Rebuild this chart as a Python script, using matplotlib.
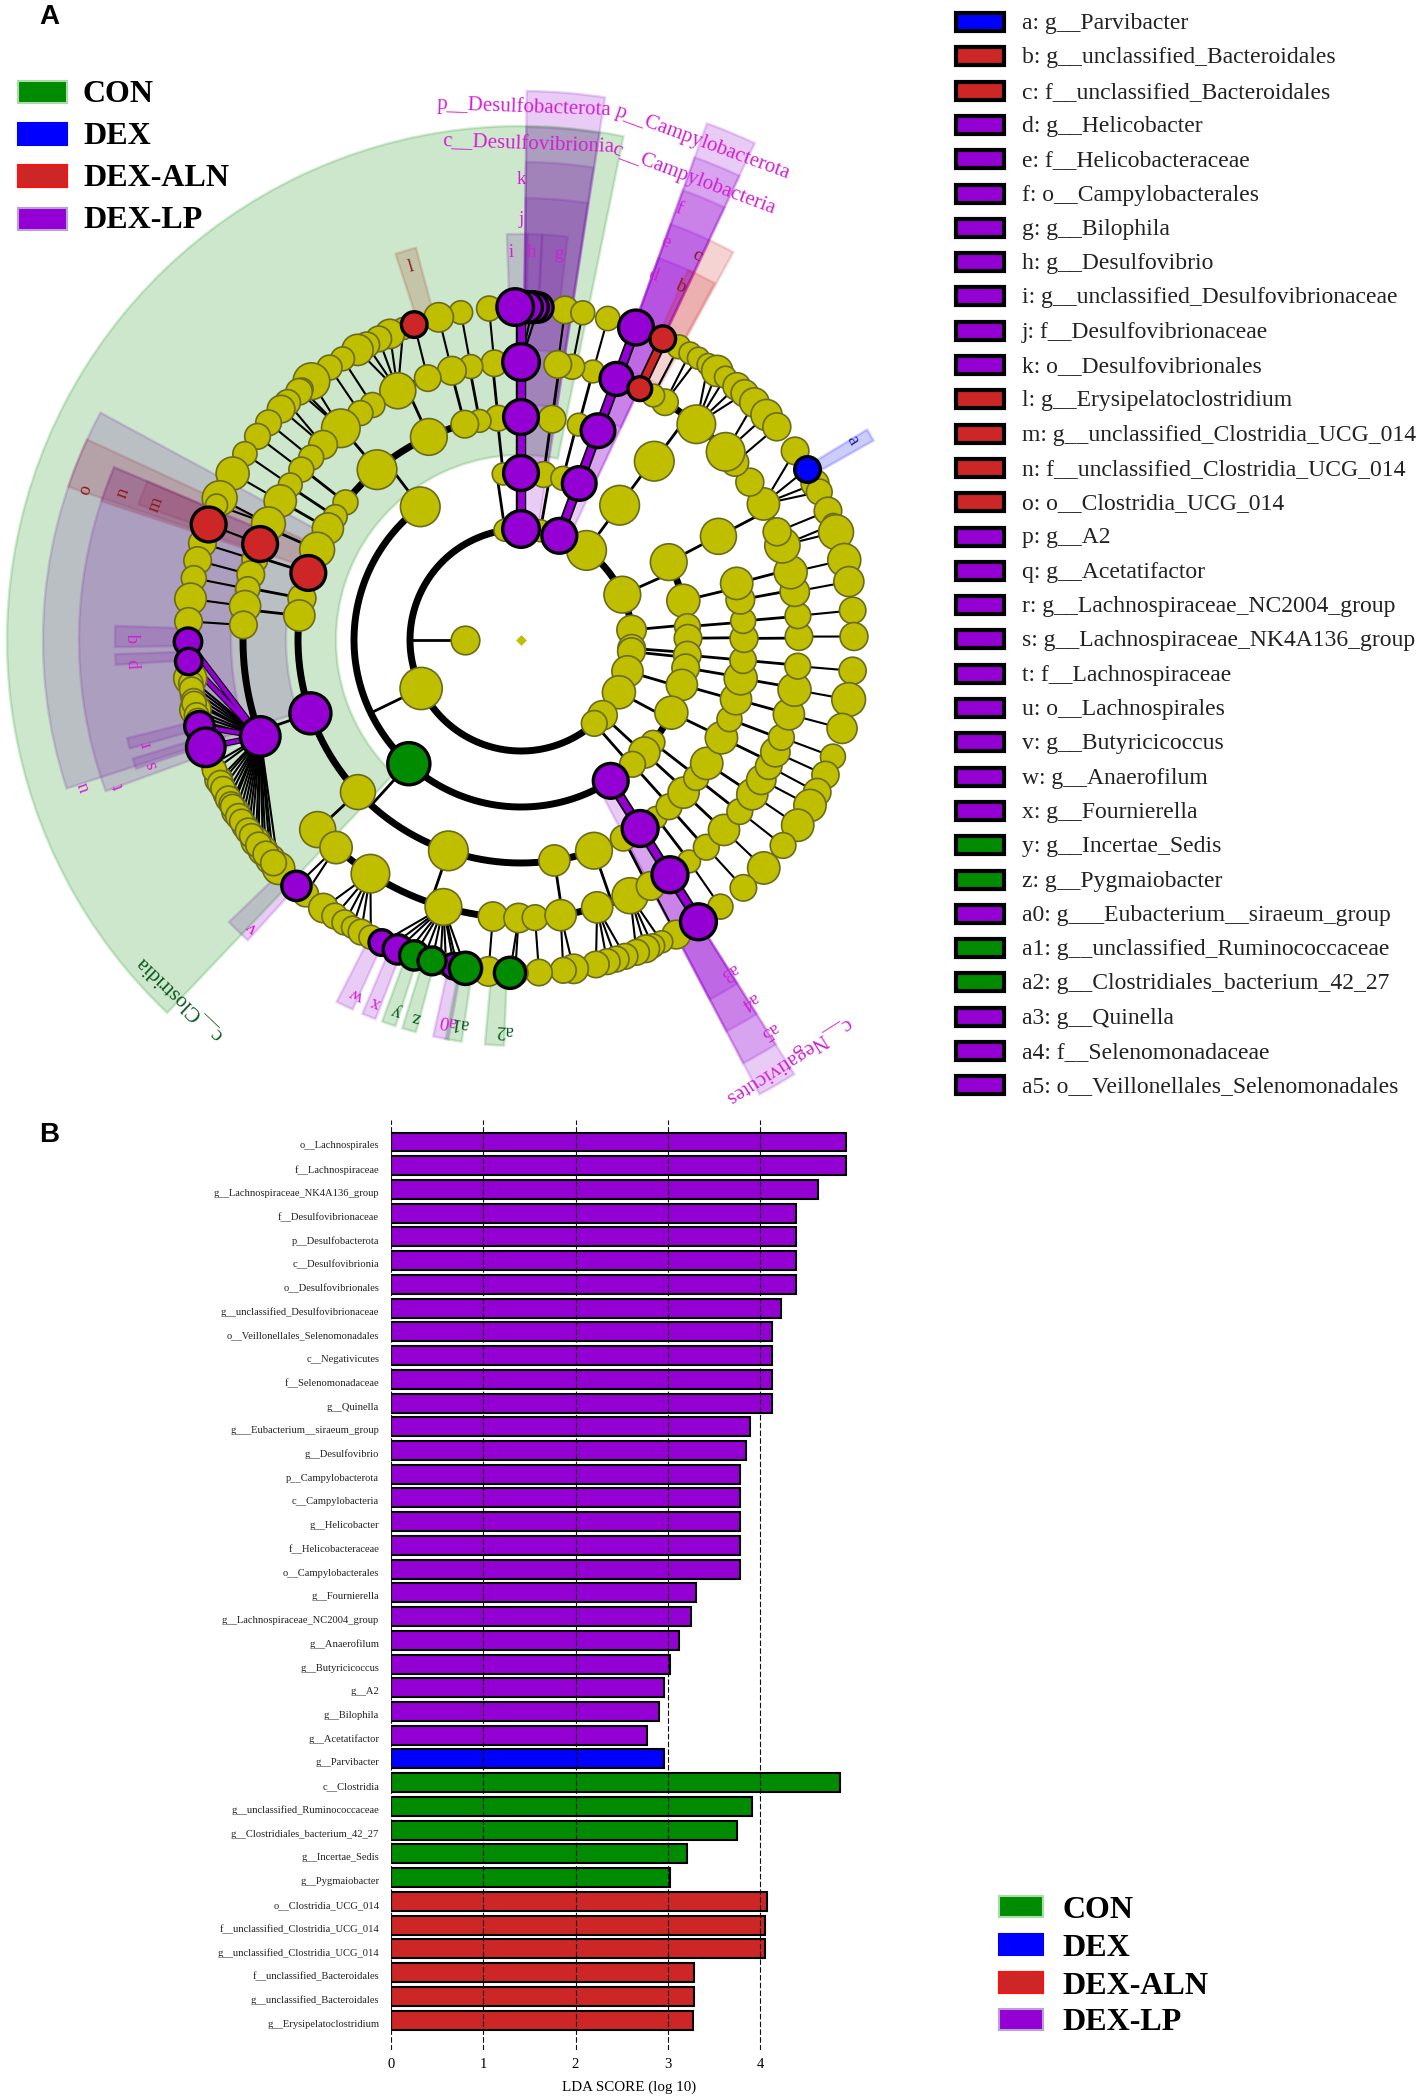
import matplotlib
matplotlib.use('Agg')
import matplotlib.pyplot as plt
from matplotlib.patches import Rectangle
from matplotlib.transforms import ScaledTranslation
import numpy as np

W, H = 1417, 2099
SERIF = 'Liberation Serif'

# group colours
group_color = {'CON': '#008B00', 'DEX': '#0000FF', 'DEX-ALN': '#CD2626', 'DEX-LP': '#9400D3'}
label_color = {'CON': '#0B5A1E', 'DEX': '#2222AA', 'DEX-ALN': '#8B1A1A', 'DEX-LP': '#D41FD4'}
YELLOW = '#BFBF00'

##### cladogram data: angle in degrees, size = node diameter read in zoomed pixels
ring_r = [0, 56, 111, 167, 223, 278, 333]

ring1_angle = [180]
ring1_size = [78]
ring2_angle = [98.3, 80, 53.8, 24.1, 5.2, -4.3, -6, -16.4, -28.1, -42.7, -48.7, 205.9]
ring2_size = [60, 60, 108, 100, 80, 75, 75, 85, 90, 80, 70, 115]
ring3_angle = [96.1, 127.1, 82.2, 75.5, 53.8, 27.8, 13.6, 4.6, 0.6, -5.2, -9.6, -15.6, -25.8, -37.8, -42.4, -48.1]
ring3_size = [60, 108, 70, 65, 108, 100, 90, 70, 75, 75, 75, 85, 90, 65, 85, 70]
ring4_angle = [95.9, 100.7, 104.6, 114.4, 130.2, 141.9, 146.4, 150, 156.1, 169.2, 173.7, 223, 251,
               -81.4, -70.9, -62.7, -52.7, -48.4, -43.2, -38.2, -33.6, -26, -20.8, -15.4, -9.9, -5.2,
               0.4, 4.9, 10.4, 14.7, 27.7, 53.3, 75, 82]
ring4_size = [70, 62, 75, 100, 108, 68, 65, 85, 95, 76, 85, 95, 108,
              85, 100, 70, 60, 70, 85, 68, 88, 88, 68, 85, 90, 72,
              76, 68, 78, 88, 98, 108, 62, 75]
ring5_angle = [95.5, 100.4, 104.4, 109.6, 116.3, 122.3, 125.3, 130.4, 135.4, 139, 142.2, 146.1, 150, 155.3,
               163.2, 166.4, 169.4, 173, 176.9, 223, 228.3, 237.2, 253.8, 264.2, 269.5,
               -87.1, -81.8, -74.1, -66.9, -62.2, -52.8, -48.2, -43.1, -38.1, -33.7, -30.2, -27, -23.8,
               -20.5, -15.5, -10.3, -5.4, 0.7, 5, 10, 14.1, 19.9, 22.9, 29.3, 34.6, 39.7, 42.6, 50.9,
               58.8, 61.6, 75, 79.4, 82.4]
ring5_size = [72, 65, 78, 72, 98, 68, 68, 105, 78, 68, 68, 65, 88, 92,
              70, 75, 66, 85, 75, 98, 88, 105, 100, 80, 80,
              70, 85, 85, 98, 78, 62, 70, 85, 70, 85, 80, 72, 80,
              70, 85, 90, 70, 75, 70, 80, 90, 96, 76, 88, 76, 75, 105, 105,
              72, 62, 62, 68, 75]
ring6_angle = [82.4, 79.3, 74.9, 61.7, 59.5, 57.8, 55.8, 53.9, 52.1, 49.6, 47.8, 45.5, 42.5, 39.8, 34.6, 28,
               26.4, 22.8, 20.3, 18.9, 13.9, 10.1, 5.1, 0.6, -5.3, -10.3, -15.4, -20.5, -23.9, -27.2, -29.8,
               -33.8, -38.1, -43.2, -48.1, -53.2, -62.2, -65, -66.7, -68, -69.7, -71.8, -73.4, -75, -77,
               -80.9, -82.7, -86.9, -91,
               95.5, 100.4, 104.3, 110.7, 113.2, 115.3, 117.6, 119.4, 122.4, 125.1, 129, 131.1, 131.8, 134.5,
               136.1, 139.3, 142.3, 146, 150, 154.8, 156.1, 163.1, 166.2, 169.3, 172.9, 176.8, 186.6, 189.5,
               192.1, 202, 204.8, 207.6, 211, 214, 217.2, 219.2, 221.2, 223.3, 229.7, 233.6, 236, 238, 239.6,
               241.3, 243.2, 264.4,
               # half hidden behind their neighbours
               187.5, 188.5, 190.5, 191, 193, 194, 203, 205.5, 206.5, 208.5, 209.5, 210, 212, 213, 215, 216,
               218, 220, 222, 247, 250, 253, 256, 257, 259]
ring6_size = [75, 65, 66, 65, 60, 60, 60, 85, 60, 75, 74, 80, 85, 76, 75, 76,
              70, 75, 60, 95, 90, 82, 72, 76, 74, 92, 82, 68, 74, 75, 88,
              88, 70, 88, 72, 68, 78, 60, 65, 75, 70, 70, 70, 70, 72,
              80, 70, 72, 70,
              68, 64, 80, 60, 80, 70, 70, 85, 65, 68, 100, 60, 72, 70,
              75, 70, 70, 66, 90, 95, 60, 75, 75, 68, 86, 75, 90, 66,
              85, 60, 75, 68, 75, 70, 80, 80, 80, 88, 70, 80, 70, 68, 60,
              70, 65, 80,
              66, 66, 66, 66, 66, 66, 66, 70, 66, 70, 66, 66, 70, 66, 70, 66,
              70, 70, 70, 60, 60, 60, 60, 60, 60]

# enriched nodes
lp_ring = [2, 2, 3, 3, 3, 4, 4, 4, 4, 5, 5, 5, 5, 6, 6, 6, 6, 6, 6, 6, 6, 6, 6, 6, 6, 6, 6]
lp_angle = [90, 69.8, 90, 69.6, -57.5, 90, 69.8, 199.2, -57.7, 90, 69.9, 200.3, -57.6,
            87, 88, 89, 91, 69.8, 180.3, 183.7, 195, 198.8, 227.6, 245.3, 248.3, 258.4, -57.8]
lp_size = [100, 95, 95, 92, 95, 95, 92, 112, 98, 100, 90, 108, 98,
           80, 85, 85, 100, 95, 75, 72, 80, 105, 80, 70, 80, 70, 98]
aln_ring = [4, 5, 5, 6, 6, 6]
aln_angle = [162.5, 159.8, 64.7, 159.7, 108.7, 64.8]
aln_size = [95, 95, 65, 95, 70, 70]
con_ring = [3, 6, 6, 6, 6]
con_angle = [227.8, 251.3, 254.5, 260.4, 268.1]
con_size = [115, 80, 76, 88, 85]
dex_ring = [6]
dex_angle = [30.9]
dex_size = [70]

# thick arcs (ring, from, to)
arc_ring = [2, 2, 3, 3, 4, 5, 5, 5, 5, 5]
arc_from = [91, -48.7, 127, -37.8, 96, 109.6, 177, 228.3, 22.9, 42.6]
arc_to = [311.3, 53.8, 302.5, 27.8, 297.3, 116.3, 200.3, 293, 29.3, 58.8]

# many-children fans between ring 5 and ring 6 (parent, lowest child, highest child)
fan_parent = [200.3, 237.2, 228.3, 253.8, 264.2, 269.5, -81.8, -74.1, -66.9, 130.4, 116.3, 50.9, 29.3, 19.9]
fan_low = [180, 233, 227, 245, 264, 266, -84, -80, -70, 127, 110, 49, 25, 17]
fan_high = [224, 244, 232, 262, 265, 272, -79.5, -70.5, -64, 133, 121, 57, 35, 22]

# coloured branches (angle, first ring, last ring, group)
chain_angle = [90, 69.8, -57.7, 64.7]
chain_first = [2, 2, 3, 5]
chain_last = [6, 6, 6, 6]
chain_group = ['DEX-LP', 'DEX-LP', 'DEX-LP', 'DEX-ALN']
lp_fan_children = [198.8, 195, 183.7, 180.3]

# shaded clades
wedge_from = [78.5, 81.2, 81.2, 81.3, 81.3, 89, 87, 83.4, 64.8, 64.8, 64.8, 64.8, 64.8, 61.3, 61.5, 105,
              155.2, 157, 157, 151.6, 157, 178, 182, 194, 197, 224, 243, 247, 250, 253, 257.5, 259.3, 264.9,
              29.5, -62.3, -62.3, -62.3, -62.3]
wedge_to = [226.5, 89.4, 89.4, 89.4, 89.4, 92, 89.4, 87, 70.2, 70.2, 70.2, 70.2, 70.2, 64.7, 65.7, 108,
            161.3, 161.7, 160.5, 198.1, 200, 181, 183.5, 195.5, 198.5, 227.7, 245.5, 249, 252, 255, 259.7, 261.6, 267.6,
            31.3, -57.8, -57.8, -57.8, -57.8]
wedge_in = [185, 122, 178, 235, 290, 340, 340, 340, 122, 178, 235, 290, 340, 290, 340, 340,
            235, 290, 340, 235, 290, 340, 340, 340, 340, 340, 340, 340, 340, 340, 340, 340, 340,
            340, 178, 235, 290, 340]
wedge_out = [514, 549, 513, 478, 442, 406, 406, 406, 549, 513, 478, 442, 406, 442, 406, 406,
             478, 442, 406, 478, 442, 406, 406, 406, 406, 406, 406, 406, 406, 406, 406, 406, 406,
             405, 513, 478, 442, 406]
wedge_group = ['CON'] + ['DEX-LP'] * 12 + ['DEX-ALN'] * 3 + ['DEX-ALN'] * 3 + ['DEX-LP'] * 7 + \
              ['DEX-LP', 'DEX-LP', 'CON', 'CON', 'DEX-LP', 'CON', 'CON', 'DEX'] + ['DEX-LP'] * 4

# clade labels
clade_text = ['c__Clostridia', 'p__Desulfobacterota', 'c__Desulfovibrionia', 'p__Campylobacterota', 'c__Campylobacteria',
              'c__Negativicutes', 'a', 'b', 'c', 'd', 'e', 'f', 'g', 'h', 'i', 'j', 'k', 'l', 'm', 'n', 'o', 'p', 'q', 'r',
              's', 't', 'u', 'v', 'w', 'x', 'y', 'z', 'a0', 'a1', 'a2', 'a3', 'a4', 'a5']
clade_theta = [226.4, 89.6, 89.2, 69.9, 69.5, -57.6, 31, 65.6, 65.4, 70, 70, 69.9, 84.5, 88.5, 91.4, 90, 90, 106.5,
               159.7, 159.7, 161, 183.5, 179.7, 195.6, 198.7, 200, 198.6, 226.9, 245.2, 248.2, 251.5, 254.5, 259.2,
               261, 267.5, -57.9, -57.7, -57.6]
clade_r = [495, 533, 495, 529, 492, 498, 387, 388, 423, 388, 423, 459, 388, 388, 388, 420, 460, 389,
           389, 424, 461, 388, 388, 389, 390, 428, 461, 393, 390, 390, 391, 391, 388, 388, 390, 391, 427, 463]
clade_group = ['CON', 'DEX-LP', 'DEX-LP', 'DEX-LP', 'DEX-LP', 'DEX-LP', 'DEX', 'DEX-ALN', 'DEX-ALN', 'DEX-LP', 'DEX-LP',
               'DEX-LP', 'DEX-LP', 'DEX-LP', 'DEX-LP', 'DEX-LP', 'DEX-LP', 'DEX-ALN', 'DEX-ALN', 'DEX-ALN', 'DEX-ALN',
               'DEX-LP', 'DEX-LP', 'DEX-LP', 'DEX-LP', 'DEX-LP', 'DEX-LP', 'DEX-LP', 'DEX-LP', 'DEX-LP', 'CON', 'CON',
               'DEX-LP', 'CON', 'CON', 'DEX-LP', 'DEX-LP', 'DEX-LP']

##### right hand key
key_text = ['a: g__Parvibacter', 'b: g__unclassified_Bacteroidales', 'c: f__unclassified_Bacteroidales',
            'd: g__Helicobacter', 'e: f__Helicobacteraceae', 'f: o__Campylobacterales', 'g: g__Bilophila',
            'h: g__Desulfovibrio', 'i: g__unclassified_Desulfovibrionaceae', 'j: f__Desulfovibrionaceae',
            'k: o__Desulfovibrionales', 'l: g__Erysipelatoclostridium', 'm: g__unclassified_Clostridia_UCG_014',
            'n: f__unclassified_Clostridia_UCG_014', 'o: o__Clostridia_UCG_014', 'p: g__A2', 'q: g__Acetatifactor',
            'r: g__Lachnospiraceae_NC2004_group', 's: g__Lachnospiraceae_NK4A136_group', 't: f__Lachnospiraceae',
            'u: o__Lachnospirales', 'v: g__Butyricicoccus', 'w: g__Anaerofilum', 'x: g__Fournierella',
            'y: g__Incertae_Sedis', 'z: g__Pygmaiobacter', 'a0: g___Eubacterium__siraeum_group',
            'a1: g__unclassified_Ruminococcaceae', 'a2: g__Clostridiales_bacterium_42_27', 'a3: g__Quinella',
            'a4: f__Selenomonadaceae', 'a5: o__Veillonellales_Selenomonadales']
key_group = ['DEX', 'DEX-ALN', 'DEX-ALN'] + ['DEX-LP'] * 8 + ['DEX-ALN'] * 4 + ['DEX-LP'] * 9 + ['CON', 'CON'] + \
            ['DEX-LP', 'CON', 'CON', 'DEX-LP', 'DEX-LP', 'DEX-LP']

##### LDA bars
taxa = ['o__Lachnospirales', 'f__Lachnospiraceae', 'g__Lachnospiraceae_NK4A136_group', 'f__Desulfovibrionaceae',
        'p__Desulfobacterota', 'c__Desulfovibrionia', 'o__Desulfovibrionales', 'g__unclassified_Desulfovibrionaceae',
        'o__Veillonellales_Selenomonadales', 'c__Negativicutes', 'f__Selenomonadaceae', 'g__Quinella',
        'g___Eubacterium__siraeum_group', 'g__Desulfovibrio', 'p__Campylobacterota', 'c__Campylobacteria',
        'g__Helicobacter', 'f__Helicobacteraceae', 'o__Campylobacterales', 'g__Fournierella',
        'g__Lachnospiraceae_NC2004_group', 'g__Anaerofilum', 'g__Butyricicoccus', 'g__A2', 'g__Bilophila',
        'g__Acetatifactor', 'g__Parvibacter', 'c__Clostridia', 'g__unclassified_Ruminococcaceae',
        'g__Clostridiales_bacterium_42_27', 'g__Incertae_Sedis', 'g__Pygmaiobacter', 'o__Clostridia_UCG_014',
        'f__unclassified_Clostridia_UCG_014', 'g__unclassified_Clostridia_UCG_014', 'f__unclassified_Bacteroidales',
        'g__unclassified_Bacteroidales', 'g__Erysipelatoclostridium']
lda = [4.93, 4.93, 4.63, 4.39, 4.39, 4.39, 4.39, 4.23, 4.13, 4.13, 4.13, 4.13, 3.89, 3.85, 3.78, 3.78, 3.78, 3.78, 3.78,
       3.31, 3.25, 3.12, 3.02, 2.96, 2.90, 2.78, 2.96, 4.87, 3.91, 3.75, 3.21, 3.02, 4.08, 4.05, 4.05, 3.28, 3.28, 3.27]
bar_group = ['DEX-LP'] * 26 + ['DEX'] + ['CON'] * 5 + ['DEX-ALN'] * 6
groups = ['CON', 'DEX', 'DEX-ALN', 'DEX-LP']
group_edge = {'CON': '#A8DDA8', 'DEX': '#0000FF', 'DEX-ALN': '#FF1010', 'DEX-LP': '#B9A0D8'}

fig = plt.figure(figsize=(W / 100, H / 100), dpi=100, facecolor='white')


def px_rect(x0, y0, x1, y1, fc, ec, lw):
    fig.add_artist(Rectangle((x0 / W, 1 - y1 / H), (x1 - x0) / W, (y1 - y0) / H, transform=fig.transFigure,
                             facecolor=fc, edgecolor=ec, linewidth=lw, joinstyle='miter'))


def px_text(x, y, s, **kw):
    fig.text(x / W, 1 - y / H, s, va='center', **kw)


def rad(a):
    return np.deg2rad(a)


##### panel A
R = 560
cx, cy = 521, 640
ax = fig.add_axes([(cx - R) / W, 1 - (cy + R) / H, 2 * R / W, 2 * R / H], projection='polar')
ax.set_rlim(0, R)
ax.axis('off')
ax.patch.set_alpha(0)

for i, (a, b, r0, r1, g) in enumerate(zip(wedge_from, wedge_to, wedge_in, wedge_out, wedge_group)):
    # the big class wedge lies over the purple and red ones
    z = 1.2 if i == 0 else 1
    ax.bar(rad(a), r1 - r0, width=rad(b - a), bottom=r0, align='edge',
           color=matplotlib.colors.to_rgba(group_color[g], 0.2),
           edgecolor=matplotlib.colors.to_rgba(group_color[g], 0.18), linewidth=1.8, zorder=z)

for r, a, b in zip(arc_ring, arc_from, arc_to):
    t = rad(np.linspace(a, b, 200))
    ax.plot(t, np.full(200, ring_r[r]), color='black', lw=5, solid_capstyle='butt', zorder=2)

# radial stems: every node up to ring 4 runs out to the next ring
ring_all = {1: ring1_angle, 2: ring2_angle + lp_angle[:2], 3: ring3_angle + lp_angle[2:5] + con_angle[:1],
            4: ring4_angle + lp_angle[5:9] + aln_angle[:1]}
for k, angles in ring_all.items():
    for a in angles:
        ax.plot([rad(a), rad(a)], [ring_r[k], ring_r[k + 1]], color='black', lw=2, zorder=2)

# ring 5 to ring 6
parents = ring5_angle + [90, 69.9, 200.3, -57.6, 159.8, 64.7]
children = ring6_angle + lp_angle[13:] + aln_angle[3:] + con_angle[1:] + dex_angle
for c in children:
    p = None
    for fp, lo, hi in zip(fan_parent, fan_low, fan_high):
        if lo <= c <= hi:
            p = fp
            break
    if p is None:
        diff = [abs((q - c + 180) % 360 - 180) for q in parents]
        p = parents[int(np.argmin(diff))]
    ax.plot([rad(p), rad(c)], [ring_r[5], ring_r[6]], color='black', lw=1.5, zorder=2)

for a, r0, r1, g in zip(chain_angle, chain_first, chain_last, chain_group):
    ax.plot([rad(a), rad(a)], [ring_r[r0], ring_r[r1]], color='black', lw=7.5, solid_capstyle='butt', zorder=2.4)
    ax.plot([rad(a), rad(a)], [ring_r[r0], ring_r[r1]], color=group_color[g], lw=5, solid_capstyle='butt', zorder=2.5)
for c in lp_fan_children:
    ax.plot([rad(200.3), rad(c)], [ring_r[5], ring_r[6]], color='black', lw=4.5, zorder=2.4)
    ax.plot([rad(200.3), rad(c)], [ring_r[5], ring_r[6]], color=group_color['DEX-LP'], lw=3, zorder=2.5)


def nodes(angles, rings, sizes, fc, ec, lw, z):
    t = rad(np.array(angles, dtype=float))
    r = np.array([ring_r[k] for k in rings])
    s = (np.array(sizes, dtype=float) * 1.1 / 3 * 0.72) ** 2
    ax.scatter(t, r, s=s, facecolor=fc, edgecolor=ec, linewidth=lw, zorder=z, clip_on=False)


for k, angles, sizes in [(6, ring6_angle, ring6_size), (5, ring5_angle, ring5_size), (4, ring4_angle, ring4_size),
                         (3, ring3_angle, ring3_size), (2, ring2_angle, ring2_size), (1, ring1_angle, ring1_size)]:
    nodes(angles, [k] * len(angles), sizes, YELLOW, '#6B6B1E', 1.2, 3)
ax.scatter([0], [0], s=30, facecolor=YELLOW, edgecolor=YELLOW, marker='D', linewidth=0, zorder=3)

nodes(lp_angle, lp_ring, lp_size, group_color['DEX-LP'], 'black', 2.4, 4)
nodes(aln_angle, aln_ring, aln_size, group_color['DEX-ALN'], 'black', 2.4, 4)
nodes(con_angle, con_ring, con_size, group_color['CON'], 'black', 2.4, 4)
nodes(dex_angle, dex_ring, dex_size, group_color['DEX'], 'black', 2.4, 4)

for s, a, r, g in zip(clade_text, clade_theta, clade_r, clade_group):
    rot = a - 90
    if s == 'p__Desulfobacterota' or s == 'c__Desulfovibrionia':
        rot = -2
    size = 15 if len(s) > 2 else 13.5
    ax.text(rad(a), r, s, color=label_color[g], fontsize=size, family=SERIF, rotation=rot,
            rotation_mode='anchor', ha='center', va='center', zorder=6, clip_on=False)

# left legend
for g, y0 in zip(groups, [81, 123, 165, 208]):
    px_rect(18, y0, 67, y0 + 22, group_color[g], group_edge[g], 1.5)
    px_text(83, y0 + 13, g, fontsize=23, family=SERIF, fontweight='bold', color='black')

# right key
for i, (s, g) in enumerate(zip(key_text, key_group)):
    y = 22 + i * 34.3
    px_rect(956, y - 9, 1004, y + 9, group_color[g], 'black', 3)
    px_text(1022, y + 1.5, s, fontsize=17, family=SERIF, color='#222222')

px_text(39, 17, 'A', fontsize=20, family='Liberation Sans', fontweight='bold')
px_text(39, 1135, 'B', fontsize=20, family='Liberation Sans', fontweight='bold')

##### panel B
x0, x4 = 391, 760
top, bottom = 1120, 2050
first, pitch = 1142, 23.73
unit = (x4 - x0) / 4
right = 850
axb = fig.add_axes([x0 / W, 1 - bottom / H, (right - x0) / W, (bottom - top) / H])
rows = np.arange(len(taxa))
axb.barh(rows, lda, height=0.8, color=[group_color[g] for g in bar_group], edgecolor='black', linewidth=1.5, zorder=2)
axb.set_xlim(0, (right - x0) / unit)
axb.set_ylim((bottom - first) / pitch, (top - first) / pitch)
axb.set_yticks(rows)
axb.set_yticklabels(taxa, fontsize=7.6, family=SERIF, color='#222222')
axb.set_xticks([0, 1, 2, 3, 4])
axb.set_xticklabels(['0', '1', '2', '3', '4'], fontsize=10.5, family=SERIF)
axb.tick_params(axis='y', length=0, pad=8.5)
axb.tick_params(axis='x', length=0, pad=6)
shift = ScaledTranslation(0, -3 / 100, fig.dpi_scale_trans)
for lab in axb.get_yticklabels():
    lab.set_transform(lab.get_transform() + shift)
axb.xaxis.grid(True, color='#111111', linestyle=(0, (5, 2)), linewidth=0.8, zorder=5)
axb.set_axisbelow(False)
for sp in axb.spines.values():
    sp.set_visible(False)
px_text(629, 2087, 'LDA SCORE (log 10)', fontsize=10.8, family=SERIF, ha='center')

for g, y0 in zip(groups, [1896, 1934, 1972, 2009]):
    px_rect(999, y0, 1043, y0 + 21, group_color[g], group_edge[g], 1.5)
    px_text(1062, y0 + 14, g, fontsize=23, family=SERIF, fontweight='bold', color='black')

fig.savefig('out.png', dpi=100)
